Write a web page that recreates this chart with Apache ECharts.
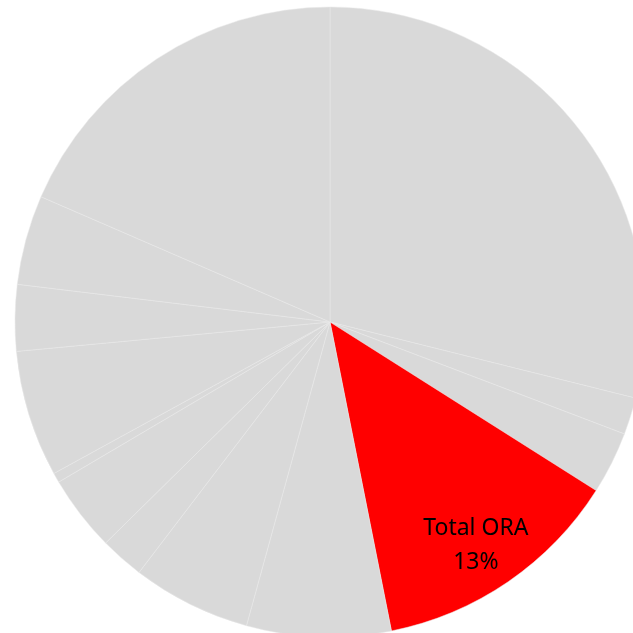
<!DOCTYPE html>
<html>
<head>
<meta charset="utf-8">
<script src="https://cdn.jsdelivr.net/npm/echarts@6/dist/echarts.min.js"></script>
<style>
  html, body { margin: 0; padding: 0; background: #fff; }
  #chart { width: 633px; height: 633px; }
</style>
</head>
<body>
<div id="chart"></div>
<script>
// slices clockwise from 12 o'clock, shares in percent
const categories = ['A', 'B', 'C', 'Total ORA', 'D', 'E', 'F', 'G', 'H', 'I', 'J', 'K', 'L']
const shares = [28.9, 1.9, 3.2, 12.9, 7.4, 6.1, 2.25, 3.9, 0.5, 6.5, 3.4, 4.6, 18.5]
const highlight = 'Total ORA'

const GREY = '#d9d9d9'
const RED = '#ff0000'

const pieData = categories.map((name, i) => ({
  name,
  value: shares[i],
  itemStyle: { color: name === highlight ? RED : GREY }
}))

const chart = echarts.init(document.getElementById('chart'))

chart.setOption({
  animation: false,
  series: [
    {
      type: 'pie',
      center: [330, 322],
      radius: [0, 315],
      startAngle: 90,
      clockwise: true,
      silent: true,
      avoidLabelOverlap: false,
      label: { show: false },
      labelLine: { show: false },
      itemStyle: { borderColor: '#e8e8e8', borderWidth: 0.5 },
      data: pieData
    },
    {
      // transparent ring only used to place the label further out
      type: 'pie',
      center: [330, 322],
      radius: [216, 315],
      startAngle: 90,
      clockwise: true,
      silent: true,
      avoidLabelOverlap: false,
      labelLine: { show: false },
      itemStyle: { color: 'transparent', borderWidth: 0 },
      data: categories.map((name, i) => ({
        name,
        value: shares[i],
        label: {
          show: name === highlight,
          position: 'inside',
          offset: [-6, 2],
          formatter: p => p.name + '\n' + Math.round(p.percent) + '%',
          color: '#000',
          fontFamily: 'Noto Sans',
          fontSize: 23,
          lineHeight: 34
        }
      }))
    }
  ]
})

window.addEventListener('resize', () => chart.resize())
</script>
</body>
</html>
